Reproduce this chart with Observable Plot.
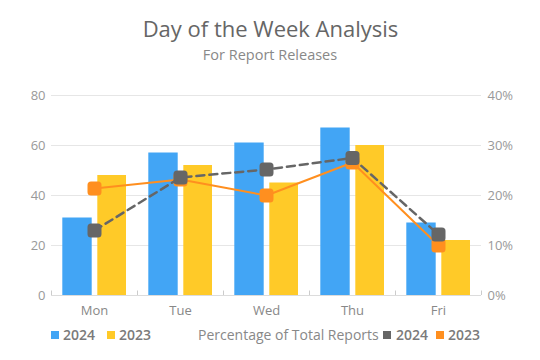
<!DOCTYPE html>
<html><head><meta charset="utf-8">
<script src="https://cdn.jsdelivr.net/npm/d3@7"></script>
<script src="https://cdn.jsdelivr.net/npm/@observablehq/plot@0.6"></script>
<style>
body{margin:0;background:#fff;font-family:"Open Sans",sans-serif;}
#wrap{position:relative;width:540px;height:360px;overflow:hidden;}
.abs{position:absolute;white-space:nowrap;}
#title{left:0;width:541px;text-align:center;top:17px;font-size:22px;line-height:22px;color:#666;}
#subtitle{left:0;width:540px;text-align:center;top:48px;font-size:14.5px;line-height:14.5px;color:#888;}
#chart{position:absolute;left:0;top:70px;}
.lg{font-size:14px;line-height:14px;top:328px;color:#7a7a7a;}
.lgb{font-weight:600;}
.sw{position:absolute;width:8px;height:8px;top:330.5px;}
</style></head>
<body><div id="wrap">
<div id="title" class="abs">Day of the Week Analysis</div>
<div id="subtitle" class="abs">For Report Releases</div>
<div id="chart"></div>
<div class="sw" style="left:50.5px;background:#42A5F5"></div><div class="abs lg lgb" style="left:63px">2024</div>
<div class="sw" style="left:106.5px;background:#FFCA28"></div><div class="abs lg lgb" style="left:119px">2023</div>
<div class="abs lg" style="left:198px;color:#888">Percentage of Total Reports</div>
<div class="sw" style="left:383px;background:#666666"></div><div class="abs lg lgb" style="left:396px">2024</div>
<div class="sw" style="left:436px;background:#FF8F1F"></div><div class="abs lg lgb" style="left:448px">2023</div>
</div>
<script>
const days = ["Mon","Tue","Wed","Thu","Fri"];
const reports2024 = [31,57,61,67,29];
const reports2023 = [48,52,45,60,22];
const pct2024 = [13.0,23.6,25.2,27.5,12.2];
const pct2023 = [21.4,23.2,20.0,26.6,10.0];
const leftTicks = [0,20,40,60,80];
const rightTicks = ["0%","10%","20%","30%","40%"];

const rows = days.map((d,i)=>({day:d,r24:reports2024[i],r23:reports2023[i],p24:pct2024[i],p23:pct2023[i]}));
const pctToY = p => p*2; // right axis 0–40% maps onto left 0–80

const roundSquare = {
  draw(ctx){
    const h=7, r=3.5;
    ctx.moveTo(-h+r,-h);
    ctx.arcTo(h,-h,h,h,r);
    ctx.arcTo(h,h,-h,h,r);
    ctx.arcTo(-h,h,-h,-h,r);
    ctx.arcTo(-h,-h,h,-h,r);
    ctx.closePath();
  }
};

const plot = Plot.plot({
  width:540, height:250,
  marginTop:25, marginBottom:25, marginLeft:51, marginRight:59,
  style:{fontFamily:"Open Sans, sans-serif", fontSize:"12px", color:"#999", background:"transparent"},
  x:{domain:days, padding:0, align:0.5},
  y:{domain:[0,80]},
  marks:[
    Plot.gridY(leftTicks,{stroke:"#e6e6e6", strokeOpacity:1, strokeWidth:1}),
    Plot.axisY(leftTicks,{anchor:"left", tickSize:0, tickPadding:6, fill:"#999", fontSize:13, label:null}),
    Plot.axisY(leftTicks,{anchor:"right", tickSize:0, tickPadding:6, fill:"#999", fontSize:13, label:null,
      tickFormat:(d,i)=>rightTicks[leftTicks.indexOf(d)]}),
    Plot.axisX(days,{tickSize:0, tickPadding:10, fill:"#888", fontSize:13, label:null}),
    Plot.barY(rows,{x:"day", y:"r24", fill:"#42A5F5", insetLeft:11.3, insetRight:45.3}),
    Plot.barY(rows,{x:"day", y:"r23", fill:"#FFCA28", insetLeft:46.3, insetRight:11}),
    Plot.ruleY([0],{stroke:"#dcdcdc"}),
    Plot.ruleX(days,{x:d=>d, y1:0, y2:1.8, dx:-43, stroke:"#ccc"}),
    Plot.ruleX(["Fri"],{x:d=>d, y1:0, y2:1.8, dx:43, stroke:"#ccc"}),
    Plot.line(rows,{x:"day", y:d=>pctToY(d.p23), stroke:"#FF8F1F", strokeWidth:2}),
    Plot.dot(rows,{x:"day", y:d=>pctToY(d.p23), symbol:roundSquare, fill:"#FF8F1F", stroke:"none"}),
    Plot.line(rows,{x:"day", y:d=>pctToY(d.p24), stroke:"#666", strokeWidth:2.5, strokeDasharray:"8,5"}),
    Plot.dot(rows,{x:"day", y:d=>pctToY(d.p24), symbol:roundSquare, fill:"#666", stroke:"none"})
  ]
});
document.getElementById("chart").appendChild(plot);
</script>
</body></html>
